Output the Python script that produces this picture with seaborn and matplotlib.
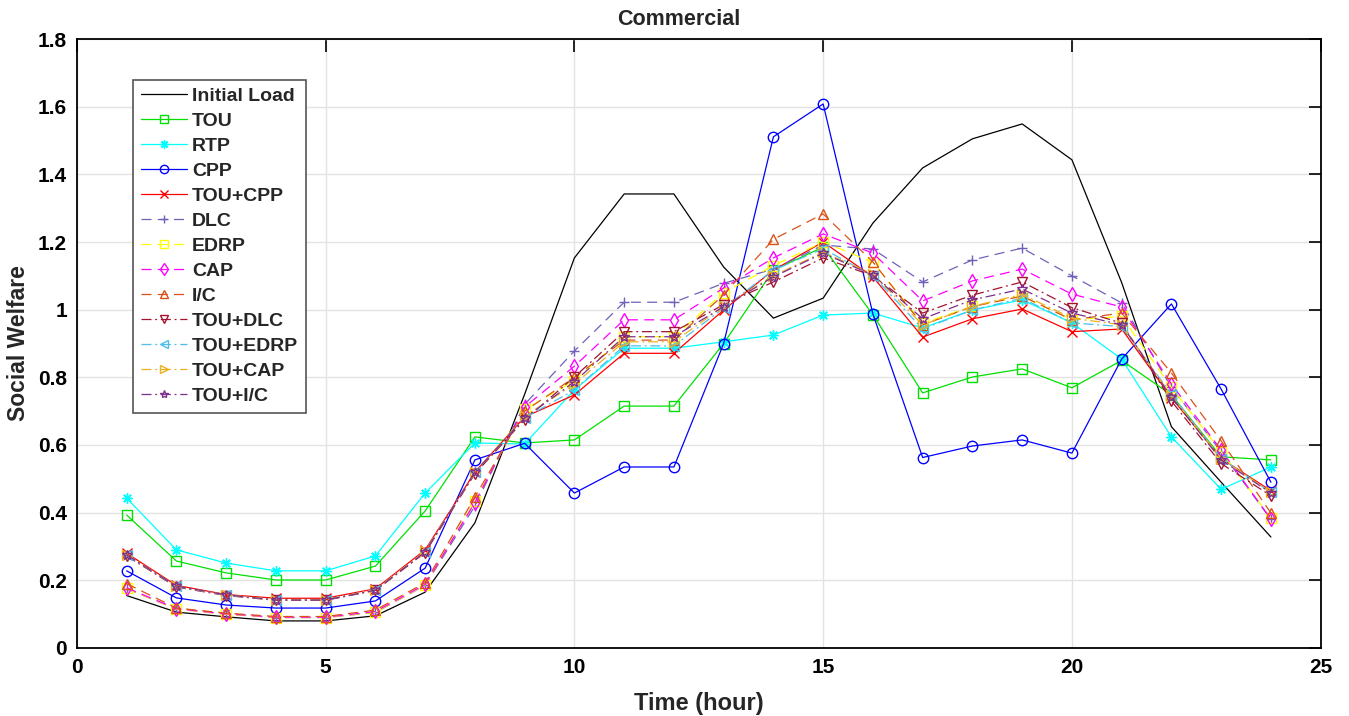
import numpy as np
import pandas as pd
import seaborn as sns
import matplotlib.pyplot as plt
from matplotlib.ticker import FuncFormatter

# hourly social welfare values
hours = list(range(1, 25))

initial_load = [0.155, 0.106, 0.092, 0.080, 0.080, 0.095, 0.165, 0.37, 0.75, 1.153, 1.342, 1.342,
                1.126, 0.975, 1.034, 1.256, 1.419, 1.505, 1.549, 1.443, 1.08, 0.654, 0.49, 0.328]
tou = [0.393, 0.257, 0.222, 0.201, 0.201, 0.242, 0.405, 0.624, 0.606, 0.615, 0.715, 0.715,
       0.90, 1.117, 1.185, 0.985, 0.754, 0.801, 0.825, 0.769, 0.85, 0.748, 0.565, 0.556]
rtp = [0.443, 0.29, 0.251, 0.228, 0.228, 0.272, 0.458, 0.606, 0.603, 0.763, 0.886, 0.886,
       0.905, 0.925, 0.984, 0.99, 0.946, 0.999, 1.029, 0.961, 0.854, 0.624, 0.469, 0.535]
cpp = [0.228, 0.148, 0.127, 0.118, 0.118, 0.139, 0.236, 0.556, 0.605, 0.458, 0.535, 0.535,
       0.90, 1.511, 1.608, 0.987, 0.563, 0.597, 0.615, 0.576, 0.854, 1.017, 0.765, 0.49]
tou_cpp = [0.28, 0.185, 0.158, 0.147, 0.147, 0.175, 0.29, 0.52, 0.683, 0.748, 0.871, 0.871,
           0.999, 1.117, 1.2, 1.097, 0.919, 0.973, 1.002, 0.935, 0.943, 0.74, 0.56, 0.465]
dlc = [0.175, 0.115, 0.10, 0.09, 0.09, 0.105, 0.185, 0.42, 0.72, 0.878, 1.022, 1.022,
       1.078, 1.12, 1.191, 1.179, 1.082, 1.147, 1.182, 1.1, 1.02, 0.77, 0.58, 0.38]
edrp = [0.176, 0.115, 0.100, 0.090, 0.090, 0.106, 0.186, 0.435, 0.705, 0.79, 0.92, 0.92,
        1.05, 1.13, 1.2, 1.14, 0.96, 1.01, 1.04, 0.97, 0.98, 0.77, 0.58, 0.385]
cap = [0.178, 0.116, 0.101, 0.091, 0.091, 0.108, 0.188, 0.43, 0.712, 0.833, 0.97, 0.97,
       1.064, 1.153, 1.224, 1.167, 1.026, 1.085, 1.12, 1.046, 1.008, 0.78, 0.585, 0.381]
ic = [0.19, 0.118, 0.103, 0.093, 0.093, 0.112, 0.193, 0.446, 0.70, 0.80, 0.91, 0.91,
      1.044, 1.208, 1.283, 1.141, 0.955, 1.009, 1.04, 0.97, 0.99, 0.813, 0.612, 0.399]
tou_dlc = [0.272, 0.18, 0.155, 0.141, 0.141, 0.17, 0.282, 0.515, 0.675, 0.801, 0.935, 0.935,
           1.015, 1.082, 1.153, 1.10, 0.99, 1.043, 1.082, 1.006, 0.96, 0.73, 0.545, 0.45]
tou_edrp = [0.274, 0.182, 0.156, 0.143, 0.143, 0.172, 0.285, 0.52, 0.68, 0.763, 0.893, 0.893,
            1.005, 1.117, 1.18, 1.10, 0.943, 0.999, 1.034, 0.961, 0.95, 0.75, 0.56, 0.46]
tou_cap = [0.276, 0.183, 0.157, 0.143, 0.143, 0.172, 0.286, 0.52, 0.685, 0.78, 0.905, 0.905,
           1.01, 1.10, 1.17, 1.105, 0.955, 1.01, 1.045, 0.975, 0.955, 0.745, 0.56, 0.46]
tou_ic = [0.275, 0.183, 0.157, 0.142, 0.142, 0.171, 0.284, 0.52, 0.68, 0.787, 0.92, 0.92,
          1.009, 1.097, 1.167, 1.102, 0.973, 1.029, 1.061, 0.99, 0.955, 0.742, 0.556, 0.458]

# name, values, color, marker, linestyle
series = [
    ("Initial Load", initial_load, "black", None, "-"),
    ("TOU", tou, "#00e000", "s", "-"),
    ("RTP", rtp, "#00ffff", (8, 2, 0), "-"),
    ("CPP", cpp, "#0000ff", "o", "-"),
    ("TOU+CPP", tou_cpp, "#ff0000", "x", "-"),
    ("DLC", dlc, "#7060b8", "+", (0, (8, 5))),
    ("EDRP", edrp, "#ffff00", "s", (0, (8, 5))),
    ("CAP", cap, "#ff00ff", "d", (0, (8, 5))),
    ("I/C", ic, "#d95319", "^", (0, (8, 5))),
    ("TOU+DLC", tou_dlc, "#a2142f", "v", (0, (8, 3, 1.5, 3))),
    ("TOU+EDRP", tou_edrp, "#4dbeee", "<", (0, (8, 3, 1.5, 3))),
    ("TOU+CAP", tou_cap, "#edb120", ">", (0, (8, 3, 1.5, 3))),
    ("TOU+I/C", tou_ic, "#7e2f8e", "*", (0, (8, 3, 1.5, 3))),
]

sns.set_theme(style="white")
plt.rcParams["font.family"] = ["Liberation Sans", "DejaVu Sans"]
plt.rcParams["font.weight"] = "bold"

fig = plt.figure(figsize=(13.49, 7.16), dpi=100)
ax = fig.add_axes([0.057, 0.095, 0.922, 0.8505])

for name, vals, color, marker, ls in series:
    df = pd.DataFrame({"hour": hours, "value": vals})
    kw = dict(color=color, linewidth=0.9, linestyle=ls, label=name)
    if marker is not None:
        kw.update(marker=marker, markersize=7.5, mfc="none", mec=color, mew=1.0)
    sns.lineplot(data=df, x="hour", y="value", ax=ax, **kw)

ax.set_xlim(0, 25)
ax.set_ylim(0, 1.8)
ax.set_xticks(np.arange(0, 26, 5))
ax.set_yticks(np.arange(0, 1.81, 0.2))
ax.yaxis.set_major_formatter(FuncFormatter(lambda v, p: f"{v:g}"))
ax.grid(True, color="#e3e3e3", linewidth=1)
ax.tick_params(direction="in", length=9, width=1.2, top=True, right=True,
               labelsize=15, colors="black", pad=7)
for lab in ax.get_xticklabels() + ax.get_yticklabels():
    lab.set_fontweight("bold")
for sp in ax.spines.values():
    sp.set_color("black")
    sp.set_linewidth(1.3)

ax.set_title("Commercial", fontsize=15.5, fontweight="bold", pad=10, x=0.484)
ax.set_xlabel("Time (hour)", fontsize=17, fontweight="bold", labelpad=11)
ax.set_ylabel("Social Welfare", fontsize=16.5, fontweight="bold", labelpad=6)

leg = ax.legend(loc="upper left", bbox_to_anchor=(0.045, 0.933), borderaxespad=0,
                prop={"weight": "bold", "size": 14}, handlelength=2.4, markerscale=0.8,
                labelspacing=0.38, fancybox=False, framealpha=1, edgecolor="#555555",
                borderpad=0.4, handletextpad=0.25)
leg.get_frame().set_linewidth(1.2)

fig.savefig("out.png", dpi=100)
